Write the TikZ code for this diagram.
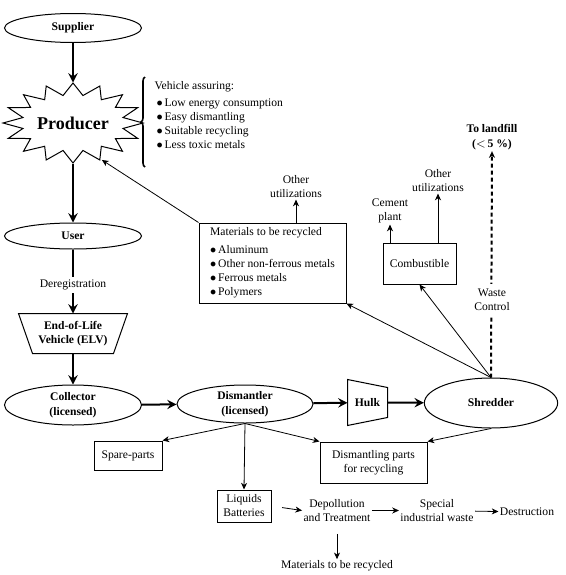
\documentclass[tikz,border=0pt]{standalone}
\usepackage{fontspec}
\setmainfont{Liberation Serif}
\usetikzlibrary{shapes.geometric,arrows.meta,decorations.pathreplacing,calc}

\tikzset{every picture/.style={line width=0.75pt}}
\tikzset{
  lbl/.style={inner sep=0.75pt, align=center, font=\fontsize{8.7}{10.5}\selectfont},
  blbl/.style={lbl, font=\fontsize{8.7}{11}\selectfont\bfseries},
  oval/.style={draw, ellipse, inner sep=0pt, align=center, font=\fontsize{8.7}{11}\selectfont\bfseries},
  box/.style={draw, rectangle, inner sep=2pt, align=center, font=\fontsize{8.7}{10.5}\selectfont},
  flow/.style={line width=1.5pt, -{Stealth[length=7pt,width=7pt,inset=2.5pt]}},
  feed/.style={line width=0.6pt, -{Stealth[length=5pt,width=4.5pt,inset=1.5pt]}},
}
\newcommand{\bul}{$\bullet$\,}

\begin{document}
\begin{tikzpicture}[x=0.75pt,y=0.75pt,yscale=-1,xscale=1]
\useasboundingbox (0,0) rectangle (566,575);

%Shape: Ellipse
\node (sup) at (73,28) [oval, minimum width=102.75pt, minimum height=21.75pt] {Supplier};
%Shape: Explosion
\node (prod) at (73,123) [ellipse, inner sep=0pt, minimum width=105pt, minimum height=60pt, font=\fontsize{13.5}{16}\selectfont\bfseries] {Producer};
\draw ($(prod.center)+(70,0)$) \foreach \k in {1,...,16}{ -- ($(prod.center)+({22.5*\k-11.25}:51 and 28)$) -- ($(prod.center)+({22.5*\k}:70 and 40)$) } -- cycle ;
%Shape: Brace
\draw [line width=1.2pt, decorate, decoration={brace, amplitude=3pt}] (145,167) -- (145,77) ;
% Text Node
\node (veh) at (153,87) [lbl, anchor=west] {Vehicle assuring:};
% Text Node
\node (assure) at (155,97) [lbl, anchor=north west, align=left] {\bul Low energy consumption\\ \bul Easy dismantling\\ \bul Suitable recycling\\ \bul Less toxic metals};

%Shape: Ellipse
\node (user) at (73,236) [oval, minimum width=102.75pt, minimum height=19.5pt] {User};
%Shape: Trapezoid
\node (elv) at (73,333.5) [blbl, minimum width=81pt, minimum height=29.25pt, inner sep=0pt] {End-of-Life\\Vehicle (ELV)};
\draw (elv.north west) -- (elv.north east) -- ($(elv.south east)+(-14,0)$) -- ($(elv.south west)+(14,0)$) -- cycle ;
%Shape: Ellipse
\node (coll) at (73,405) [oval, minimum width=102.75pt, minimum height=30pt] {Collector\\(licensed)};
%Shape: Ellipse
\node (dism) at (245,404) [oval, minimum width=102pt, minimum height=28.5pt] {Dismantler\\(licensed)};
%Shape: Trapezoid
\node (hulk) at (367.5,402.5) [blbl, minimum width=29.25pt, minimum height=33.75pt, inner sep=0pt] {Hulk};
\draw (hulk.north west) -- ($(hulk.north east)+(0,8)$) -- ($(hulk.south east)+(0,-8)$) -- (hulk.south west) -- cycle ;
%Shape: Ellipse
\node (shred) at (491,403) [oval, minimum width=100pt, minimum height=37.5pt] {Shredder};

%Shape: Rectangle
\node (mat) at (272.5,263) [box, minimum width=110.25pt, minimum height=60pt, align=left] {Materials to be recycled\\[3pt] \bul Aluminum\\ \bul Other non-ferrous metals\\ \bul Ferrous metals\\ \bul Polymers};
% Text Node
\node (oth1) at (296,187) [lbl] {Other\\utilizations};
%Shape: Rectangle
\node (comb) at (419.5,263.5) [box, minimum width=54.75pt, minimum height=30.75pt] {Combustible};
% Text Node
\node (cem) at (390,211) [lbl] {Cement\\plant};
% Text Node
\node (oth2) at (438,181) [lbl] {Other\\utilizations};
% Text Node
\node (land) at (492,137) [blbl] {To landfill\\(${<}$\,5 \%)};

%Shape: Rectangle
\node (spare) at (128,455.5) [box, minimum width=51pt, minimum height=21.75pt] {Spare-parts};
%Shape: Rectangle
\node (dpr) at (373.5,462.5) [box, minimum width=80.25pt, minimum height=30.75pt] {Dismantling parts\\for recycling};
%Shape: Rectangle
\node (liq) at (244,506) [box, minimum width=40.5pt, minimum height=24pt] {Liquids\\Batteries};
% Text Node
\node (depol) at (337,510.5) [lbl] {Depollution\\and Treatment};
% Text Node
\node (spec) at (437,510.5) [lbl] {Special\\industrial waste};
% Text Node
\node (dest) at (527,512) [lbl] {Destruction};
% Text Node
\node (mat2) at (337,566) [lbl] {Materials to be recycled};

%Straight Lines
\draw [flow] (sup) -- (prod.north) ;
\draw [flow] (prod.south) -- (user) ;
\draw [flow] (user) -- (elv) ;
\draw [flow] (elv) -- (coll) ;
\draw [flow] (coll) -- (dism) ;
\draw [flow] (dism) -- (hulk) ;
\draw [flow] (hulk) -- (shred) ;
% Text Node
\node (dereg) at (73,285) [lbl, fill=white, inner sep=2pt] {Deregistration};

%Straight Lines
\draw [feed] (mat.north west) -- (prod.-52) ;
\draw [feed] (oth1.south |- mat.north) -- (oth1.south) ;
\draw [feed] (cem.south |- comb.north) -- (cem.south) ;
\draw [feed] (oth2.south |- comb.north) -- (oth2.south) ;
\draw [feed] (shred.north) -- (mat.south east) ;
\draw [feed] (shred.north) -- (comb.south) ;
\draw [feed, line width=1.5pt, dash pattern=on 3pt off 2.25pt] (shred.north) -- (land.south) ;
% Text Node
\node (waste) at (492,300) [lbl, fill=white, inner sep=4pt] {Waste\\Control};

%Straight Lines
\draw [feed] (shred.south) -- (dpr.north east) ;
\draw [feed] (dism.south) -- (spare.north east) ;
\draw [feed] (dism.south) -- (dpr.north west) ;
\draw [feed] (dism.south) -- (liq.north) ;
\draw [feed, shorten <=8pt] (liq.east) -- (depol.west) ;
\draw [feed] (depol) -- (spec) ;
\draw [feed] (spec) -- (dest) ;
\draw [feed, shorten <=8pt] (depol.south) -- (mat2.north) ;

\end{tikzpicture}
\end{document}
